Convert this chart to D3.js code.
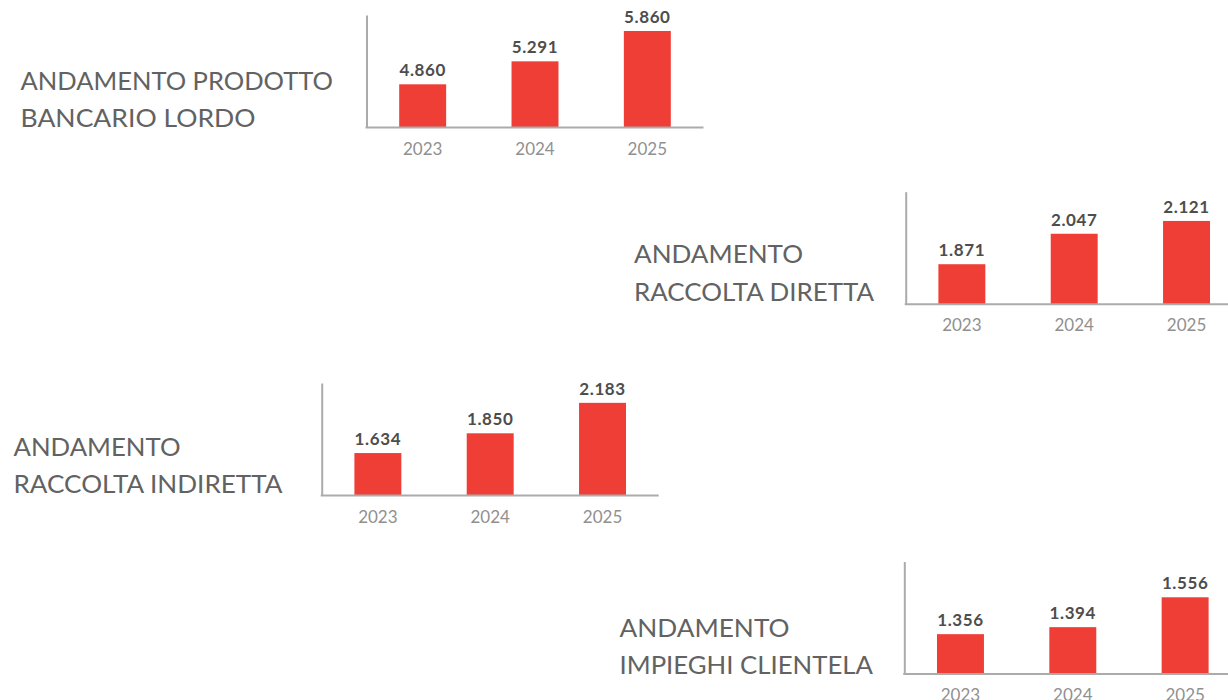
<!DOCTYPE html>
<html><head><meta charset="utf-8">
<script src="https://cdn.jsdelivr.net/npm/d3@7"></script>
<style>html,body{margin:0;padding:0;background:#fff;} svg{display:block}</style>
</head><body><svg id="c" width="1228" height="700"></svg>
<script>
// ---- data ----
const years = ["2023", "2024", "2025"];
const titlesProdotto = ["ANDAMENTO PRODOTTO", "BANCARIO LORDO"];
const titlesDiretta = ["ANDAMENTO", "RACCOLTA DIRETTA"];
const titlesIndiretta = ["ANDAMENTO", "RACCOLTA INDIRETTA"];
const titlesImpieghi = ["ANDAMENTO", "IMPIEGHI CLIENTELA"];
const valuesProdotto = [4860, 5291, 5860];
const valuesDiretta = [1871, 2047, 2121];
const valuesIndiretta = [1634, 1850, 2183];
const valuesImpieghi = [1356, 1394, 1556];
// value-axis domains (the bars sit on a non-zero base in the original)
const domainProdotto = [4050, 6160];
const domainDiretta = [1640, 2290];
const domainIndiretta = [1170, 2400];
const domainImpieghi = [1140, 1750];

// ---- layout / style ----
const plotW = 337, plotH = 112.5;
const panels = [
  {titles: titlesProdotto, values: valuesProdotto, domain: domainProdotto, ax: 366.5, top: 15, tx: 20.5, ty: 89.5, tw: [312.5, 235]},
  {titles: titlesDiretta, values: valuesDiretta, domain: domainDiretta, ax: 905.7, top: 191.7, tx: 634, ty: 263.3, tw: [169, 240]},
  {titles: titlesIndiretta, values: valuesIndiretta, domain: domainIndiretta, ax: 321.7, top: 383, tx: 13.5, ty: 455.7, tw: [167, 269]},
  {titles: titlesImpieghi, values: valuesImpieghi, domain: domainImpieghi, ax: 904.3, top: 561.5, tx: 619.5, ty: 636.7, tw: [170, 253.5]}
];
const barColor = "#ef3e36", axisColor = "#ababab", titleColor = "#626262",
      valueColor = "#4d4d4d", yearColor = "#909090";
const it = d3.formatLocale({decimal: ",", thousands: ".", grouping: [3], currency: ["", " €"]});
const fmt = it.format(",");

const svg = d3.select("#c");

panels.forEach(p => {
  const g = svg.append("g").attr("transform", `translate(${p.ax},${p.top})`);
  const x = d3.scaleBand().domain(years).range([0, plotW]).paddingInner(0.582).paddingOuter(0.291);
  const y = d3.scaleLinear().domain(p.domain).range([plotH, 0]);

  g.selectAll("rect.bar").data(p.values).join("rect")
    .attr("class", "bar")
    .attr("x", (d, i) => x(years[i]))
    .attr("width", x.bandwidth())
    .attr("y", d => y(d))
    .attr("height", d => plotH - y(d))
    .attr("fill", barColor);

  g.selectAll("text.val").data(p.values).join("text")
    .attr("class", "val")
    .attr("x", (d, i) => x(years[i]) + x.bandwidth() / 2)
    .attr("y", d => y(d) - 8.2)
    .attr("text-anchor", "middle")
    .attr("font-family", "Lato, 'Open Sans', sans-serif")
    .attr("font-weight", 700)
    .attr("font-size", 17)
    .attr("letter-spacing", 0.6)
    .attr("fill", valueColor)
    .text(d => fmt(d));

  const yAxis = g.append("g").call(d3.axisLeft(y).ticks(0).tickSizeOuter(0).tickSizeInner(0));
  yAxis.selectAll(".tick").remove();
  yAxis.select(".domain").attr("stroke", axisColor).attr("stroke-width", 2);

  const xAxis = g.append("g").attr("transform", `translate(0,${plotH})`)
    .call(d3.axisBottom(x).tickSize(0).tickPadding(15.2));
  xAxis.select(".domain").attr("stroke", axisColor).attr("stroke-width", 2).attr("d", `M-1,0H${plotW}`);
  xAxis.selectAll("text")
    .attr("font-family", "Lato, 'Open Sans', sans-serif")
    .attr("font-size", 17)
    .attr("fill", yearColor);

  const t = svg.append("text")
    .attr("font-family", "Lato, 'Open Sans', sans-serif")
    .attr("font-weight", 400)
    .attr("font-size", 24.5)
    .attr("fill", titleColor);
  p.titles.forEach((line, i) => {
    t.append("tspan")
      .attr("x", p.tx)
      .attr("y", p.ty + i * 37.3)
      .attr("textLength", p.tw[i])
      .attr("lengthAdjust", "spacingAndGlyphs")
      .text(line);
  });
});
</script>
</body></html>
